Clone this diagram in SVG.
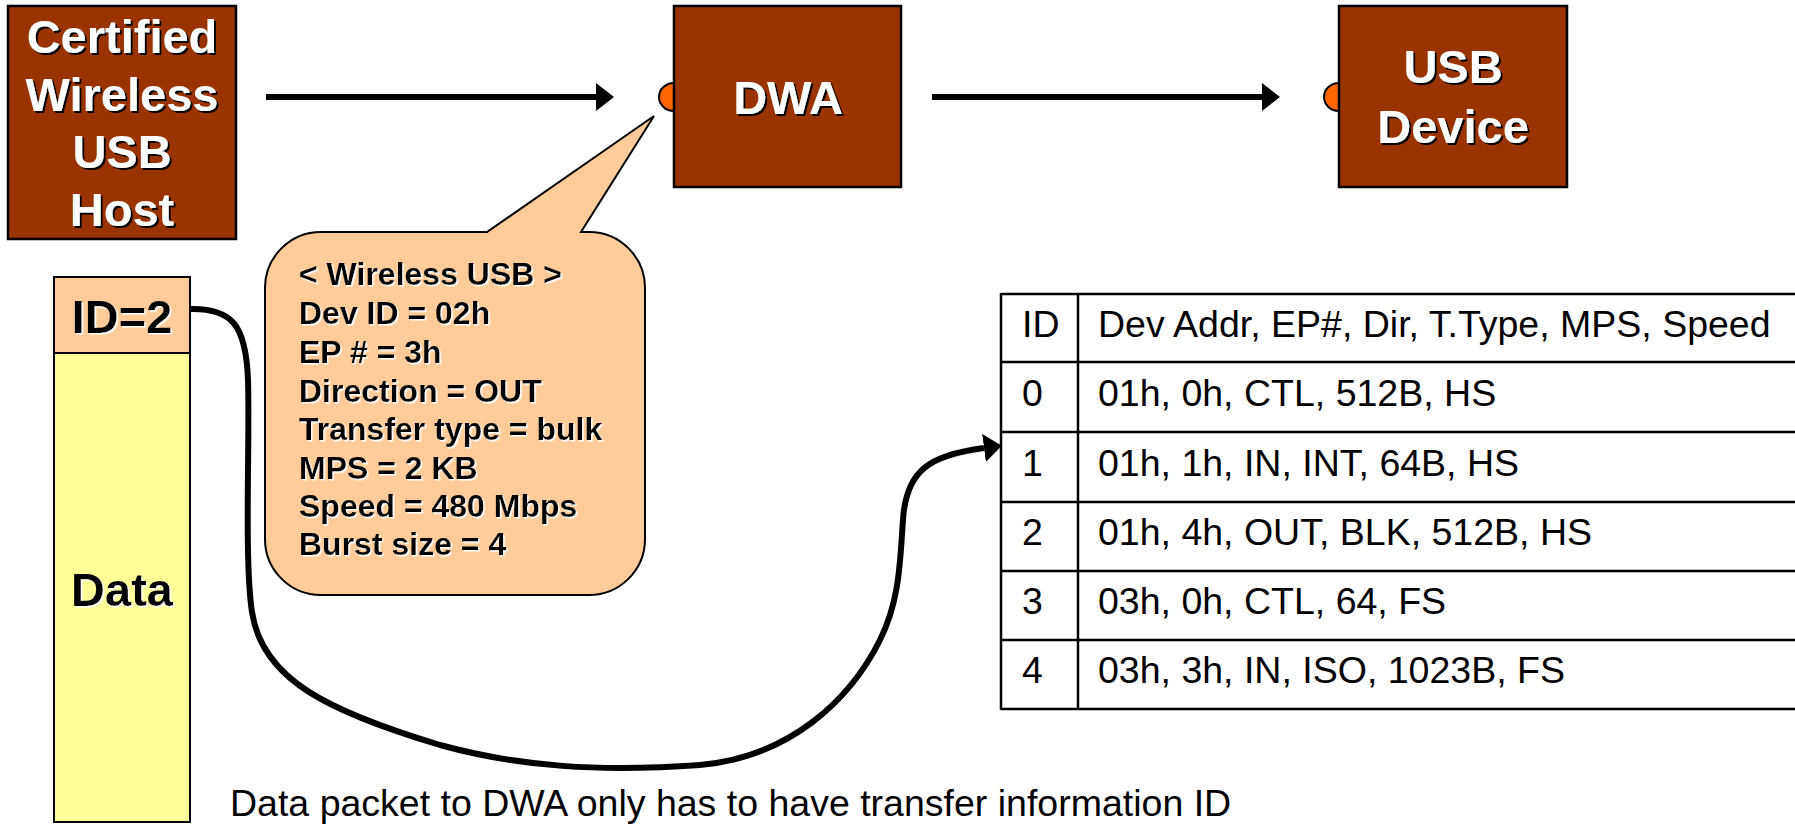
<svg xmlns="http://www.w3.org/2000/svg" width="1795" height="824" viewBox="0 0 1795 824">
<style>
.box{fill:#993300;stroke:#000;stroke-width:2.5}
.wt{font-family:"Liberation Sans",Arial,sans-serif;font-weight:bold;font-size:47px;fill:#fff;text-anchor:middle;filter:url(#sh)}
.bt{font-family:"Liberation Sans",Arial,sans-serif;font-weight:bold;fill:#000;filter:url(#wsh)}
.port{fill:#FF6600;stroke:#000;stroke-width:2}
.conn{fill:none;stroke:#000;stroke-width:6}
.tl{stroke:#000;stroke-width:2.5}
.tt{font-family:"Liberation Sans",Arial,sans-serif;font-size:37.5px;fill:#000}
</style>
<defs>
<filter id="sh" x="-10%" y="-10%" width="130%" height="130%"><feDropShadow dx="2" dy="2" stdDeviation="0" flood-color="#000"/></filter>
<filter id="wsh" x="-10%" y="-10%" width="130%" height="130%"><feDropShadow dx="1.5" dy="1.5" stdDeviation="0" flood-color="#fff"/></filter>
<marker id="ah" viewBox="0 0 18 28" refX="0" refY="14" markerWidth="18" markerHeight="28" markerUnits="userSpaceOnUse" orient="auto"><path d="M0,0 L18,14 L0,28 Z" fill="#000"/></marker>
</defs>
<rect width="1795" height="824" fill="#fff"/>

<g id="host">
<rect class="box" x="8" y="6" width="228" height="233"/>
<text class="wt" x="122" y="53">Certified</text>
<text class="wt" x="122" y="110.5">Wireless</text>
<text class="wt" x="122" y="168">USB</text>
<text class="wt" x="122" y="225.5">Host</text>
</g>

<g id="dwa">
<path class="port" d="M674,83 A15,14 0 0 0 674,111 Z"/>
<rect class="box" x="674" y="6" width="227" height="181"/>
<text class="wt" x="788" y="114">DWA</text>
</g>

<g id="usb-device">
<path class="port" d="M1339,83 A15,14 0 0 0 1339,111 Z"/>
<rect class="box" x="1339" y="6" width="228" height="181"/>
<text class="wt" x="1453" y="83">USB</text>
<text class="wt" x="1453" y="143">Device</text>
</g>

<g id="callout">
<path d="M321,232 L487,232 L654,116 L581,232 L589,232 A56,56 0 0 1 645,288 L645,539 A56,56 0 0 1 589,595 L321,595 A56,56 0 0 1 265,539 L265,288 A56,56 0 0 1 321,232 Z" fill="#FFCC99" stroke="#000" stroke-width="2"/>
<g class="bt" font-size="32">
<text x="299" y="285">&lt; Wireless USB &gt;</text>
<text x="299" y="324">Dev ID = 02h</text>
<text x="299" y="362.5">EP # = 3h</text>
<text x="299" y="401.5">Direction = OUT</text>
<text x="299" y="440">Transfer type = bulk</text>
<text x="299" y="478.5">MPS = 2 KB</text>
<text x="299" y="517">Speed = 480 Mbps</text>
<text x="299" y="555">Burst size = 4</text>
</g>
</g>

<g id="packet">
<rect x="54" y="277" width="136" height="76" fill="#FFCC99" stroke="#000" stroke-width="2"/>
<rect x="54" y="353" width="136" height="469" fill="#FFFF99" stroke="#000" stroke-width="2"/>
<text class="bt" x="122" y="333" font-size="47" text-anchor="middle">ID=2</text>
<text class="bt" x="122" y="606" font-size="47" text-anchor="middle">Data</text>
</g>

<g id="table">
<line class="tl" x1="1001" y1="294" x2="1795" y2="294"/>
<line class="tl" x1="1001" y1="362" x2="1795" y2="362"/>
<line class="tl" x1="1001" y1="432" x2="1795" y2="432"/>
<line class="tl" x1="1001" y1="502" x2="1795" y2="502"/>
<line class="tl" x1="1001" y1="571" x2="1795" y2="571"/>
<line class="tl" x1="1001" y1="640" x2="1795" y2="640"/>
<line class="tl" x1="1001" y1="709" x2="1795" y2="709"/>
<line class="tl" x1="1001" y1="293" x2="1001" y2="710"/>
<line class="tl" x1="1078" y1="293" x2="1078" y2="710"/>
<g class="tt">
<text x="1022" y="337">ID</text>
<text x="1098" y="337">Dev Addr, EP#, Dir, T.Type, MPS, Speed</text>
<text x="1022" y="406">0</text>
<text x="1098" y="406">01h, 0h, CTL, 512B, HS</text>
<text x="1022" y="476">1</text>
<text x="1098" y="476">01h, 1h, IN, INT, 64B, HS</text>
<text x="1022" y="545">2</text>
<text x="1098" y="545">01h, 4h, OUT, BLK, 512B, HS</text>
<text x="1022" y="614">3</text>
<text x="1098" y="614">03h, 0h, CTL, 64, FS</text>
<text x="1022" y="683">4</text>
<text x="1098" y="683">03h, 3h, IN, ISO, 1023B, FS</text>
</g>
</g>

<g id="note">
<text class="tt" x="230" y="816" font-size="37.3">Data packet to DWA only has to have transfer information ID</text>
</g>

<g id="connectors">
<line class="conn" x1="266" y1="97" x2="596" y2="97" marker-end="url(#ah)"/>
<line class="conn" x1="932" y1="97" x2="1262" y2="97" marker-end="url(#ah)"/>
<path class="conn" stroke-width="5.5" d="M190,309 C232,308 246,325 248,380 C250,440 244,560 252,612 C262,680 330,712 440,745 C520,767 600,772 700,765 C790,757 850,700 880,640 C900,600 900,560 903,520 C906,470 930,455 984,448" marker-end="url(#ah)"/>
</g>
</svg>
